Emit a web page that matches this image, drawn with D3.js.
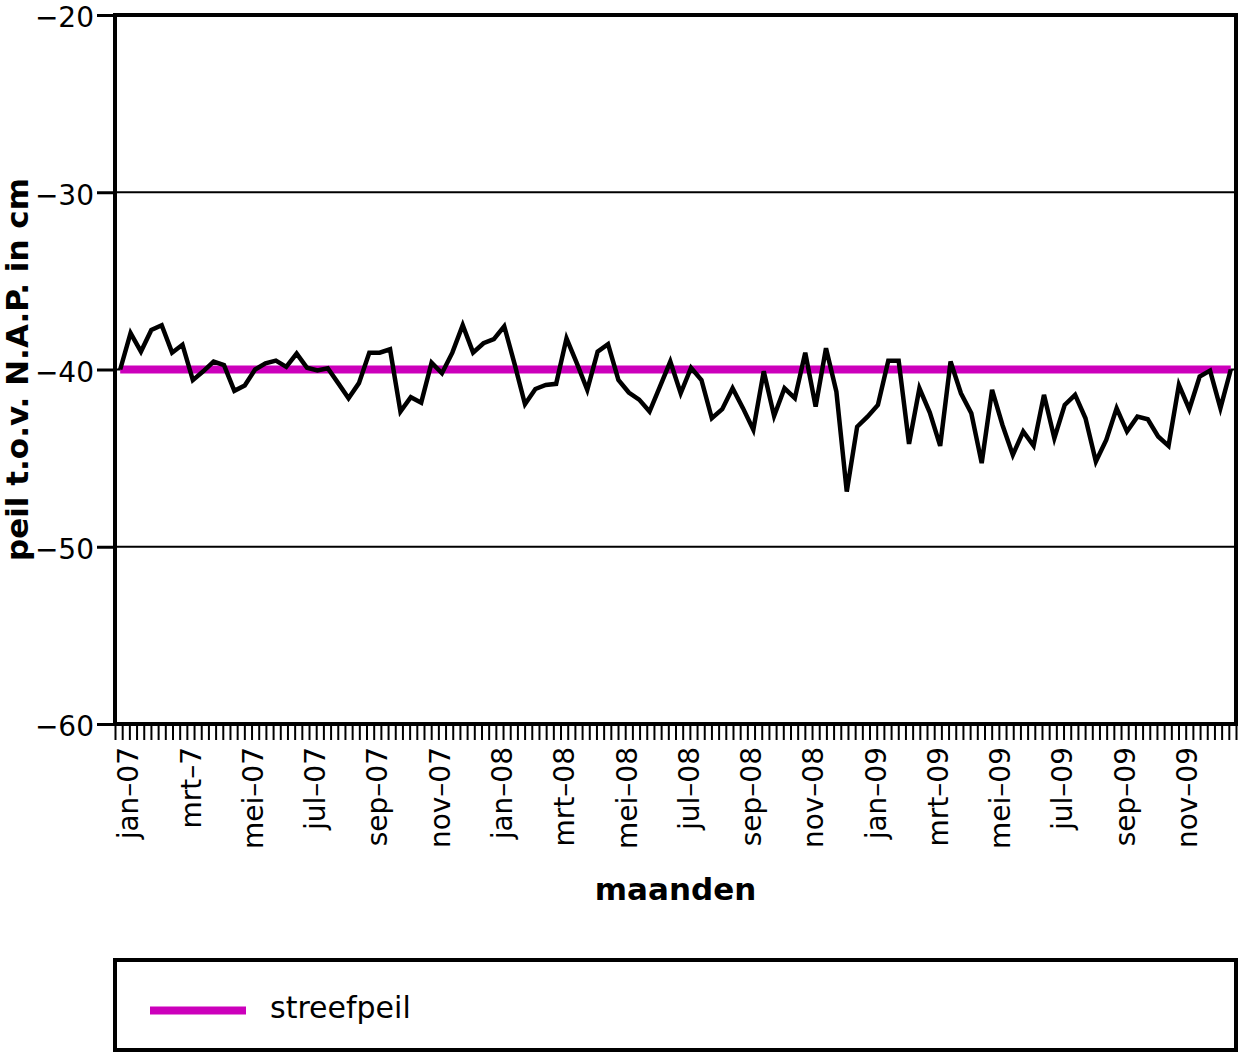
<!DOCTYPE html>
<html>
<head>
<meta charset="utf-8">
<script src="https://cdn.jsdelivr.net/npm/d3@7"></script>
<style>
  html, body { margin: 0; padding: 0; background: #fff; }
  svg { display: block; }
</style>
</head>
<body>
<svg id="chart" width="1239" height="1057"></svg>
<script>
// ---- data ----
const years = ["07", "08", "09"];
const months = ["jan", "feb", "mrt", "apr", "mei", "jun", "jul", "aug", "sep", "okt", "nov", "dec"];
const decadeParts = [1, 2, 3];
// 108 ten-day periods (decades), Jan 2007 - Dec 2009
const categories = years.flatMap(yr => months.flatMap(m => decadeParts.map(p => `${m}-${yr}-${p}`)));

// measured level (cm t.o.v. N.A.P.)
const peil = [
  -40.0, -37.95, -38.99, -37.77, -37.5, -39.05, -38.6, -40.6, -40.1, -39.55,
  -39.75, -41.2, -40.9, -40.0, -39.65, -39.5, -39.85, -39.1, -39.9, -40.05,
  -39.93, -40.77, -41.62, -40.77, -39.05, -39.05, -38.86, -42.37, -41.56, -41.87,
  -39.61, -40.21, -39.05, -37.5, -39.05, -38.52, -38.29, -37.56, -39.7, -41.96,
  -41.1, -40.87, -40.81, -38.24, -39.65, -41.15, -38.99, -38.57, -40.59, -41.3,
  -41.7, -42.37, -40.96, -39.55, -41.34, -39.9, -40.59, -42.75, -42.24, -41.06,
  -42.18, -43.4, -40.1, -42.62, -41.06, -41.62, -39.05, -42.09, -38.8, -41.25,
  -46.89, -43.23, -42.66, -42.0, -39.5, -39.5, -44.2, -41.06, -42.43, -44.31,
  -39.55, -41.34, -42.47, -45.28, -41.15, -43.13, -44.82, -43.5, -44.31, -41.43,
  -43.88, -42.0, -41.43, -42.75, -45.19, -43.97, -42.18, -43.5, -42.66, -42.81,
  -43.78, -44.31, -40.87, -42.24, -40.4, -40.06, -42.18, -40.0
];
// target level
const streefpeilValue = -40;
const streefpeil = categories.map(() => streefpeilValue);

const xTickLabels = ["jan–07", "mrt–7", "mei–07", "jul–07", "sep–07", "nov–07",
  "jan–08", "mrt–08", "mei–08", "jul–08", "sep–08", "nov–08",
  "jan–09", "mrt–09", "mei–09", "jul–09", "sep–09", "nov–09"];
const xLabelCategoryIdx = [0, 6, 12, 18, 24, 30, 36, 42, 48, 54, 60, 66, 72, 78, 84, 90, 96, 102];
const yTicks = [-20, -30, -40, -50, -60];
const gridValues = [-30, -40, -50];
const weekCount = 156;

const yTitle = "peil t.o.v. N.A.P. in cm";
const xTitle = "maanden";
const legendLabel = "streefpeil";

// ---- layout ----
const L = 115, R = 1236, T = 15, B = 724;
const svg = d3.select("#chart");
const FONT = "'DejaVu Sans', Verdana, sans-serif";

const x = d3.scaleBand().domain(categories).range([L, R]).padding(0);
const cx = c => x(c) + x.bandwidth() / 2;
const y = d3.scaleLinear().domain([-60, -20]).range([B, T]);
const weekScale = d3.scaleLinear().domain([0, weekCount]).range([L, R]);

// gridlines
svg.append("g").selectAll("line").data(gridValues).join("line")
  .attr("x1", L).attr("x2", R)
  .attr("y1", d => y(d)).attr("y2", d => y(d))
  .attr("stroke", "#000").attr("stroke-width", 2);

// y axis ticks + labels
const yAxis = d3.axisLeft(y).tickValues(yTicks).tickSize(18).tickPadding(3)
  .tickFormat(d3.format("d"));
const gy = svg.append("g").attr("transform", `translate(${L},0)`).call(yAxis);
gy.select(".domain").remove();
gy.selectAll(".tick line").attr("stroke", "#000").attr("stroke-width", 3);
gy.selectAll(".tick text").attr("font-family", FONT).attr("font-size", 28).attr("fill", "#000")
  .attr("dy", "0.42em");

// x axis weekly tick marks
const xAxis = d3.axisBottom(weekScale).tickValues(d3.range(weekCount + 1)).tickSize(16).tickFormat("");
const gx = svg.append("g").attr("transform", `translate(0,${B})`).call(xAxis);
gx.select(".domain").remove();
gx.selectAll(".tick line").attr("stroke", "#000").attr("stroke-width", 2);

// x labels
svg.append("g").selectAll("text").data(xTickLabels).join("text")
  .attr("transform", (d, i) => `translate(${cx(categories[xLabelCategoryIdx[i]]) + 8},${747}) rotate(-90)`)
  .attr("text-anchor", "end")
  .attr("dy", "0.36em")
  .attr("font-family", FONT).attr("font-size", 28).attr("fill", "#000")
  .text(d => d);

// target line
const line = d3.line().x((d, i) => cx(categories[i])).y(d => y(d));
svg.append("path").datum(streefpeil)
  .attr("d", line).attr("fill", "none")
  .attr("stroke", "#cc00bb").attr("stroke-width", 8);

// measured line
svg.append("path").datum(peil)
  .attr("d", line).attr("fill", "none")
  .attr("stroke", "#000").attr("stroke-width", 4.5)
  .attr("stroke-linejoin", "miter");

// frame
svg.append("rect").attr("x", L).attr("y", T).attr("width", R - L).attr("height", B - T)
  .attr("fill", "none").attr("stroke", "#000").attr("stroke-width", 4);

// axis titles
svg.append("text")
  .attr("transform", `translate(28,${(T + B) / 2}) rotate(-90)`)
  .attr("text-anchor", "middle")
  .attr("font-family", FONT).attr("font-size", 31).attr("font-weight", "bold")
  .text(yTitle);
svg.append("text")
  .attr("x", (L + R) / 2).attr("y", 900)
  .attr("text-anchor", "middle")
  .attr("font-family", FONT).attr("font-size", 31).attr("font-weight", "bold")
  .text(xTitle);

// legend
const lg = svg.append("g");
lg.append("rect").attr("x", L).attr("y", 960).attr("width", R - L).attr("height", 90)
  .attr("fill", "none").attr("stroke", "#000").attr("stroke-width", 4);
lg.append("line").attr("x1", 150).attr("x2", 246).attr("y1", 1010.5).attr("y2", 1010.5)
  .attr("stroke", "#cc00bb").attr("stroke-width", 8);
lg.append("text").attr("x", 270).attr("y", 1018)
  .attr("font-family", FONT).attr("font-size", 30).attr("fill", "#000")
  .text(legendLabel);
</script>
</body>
</html>
